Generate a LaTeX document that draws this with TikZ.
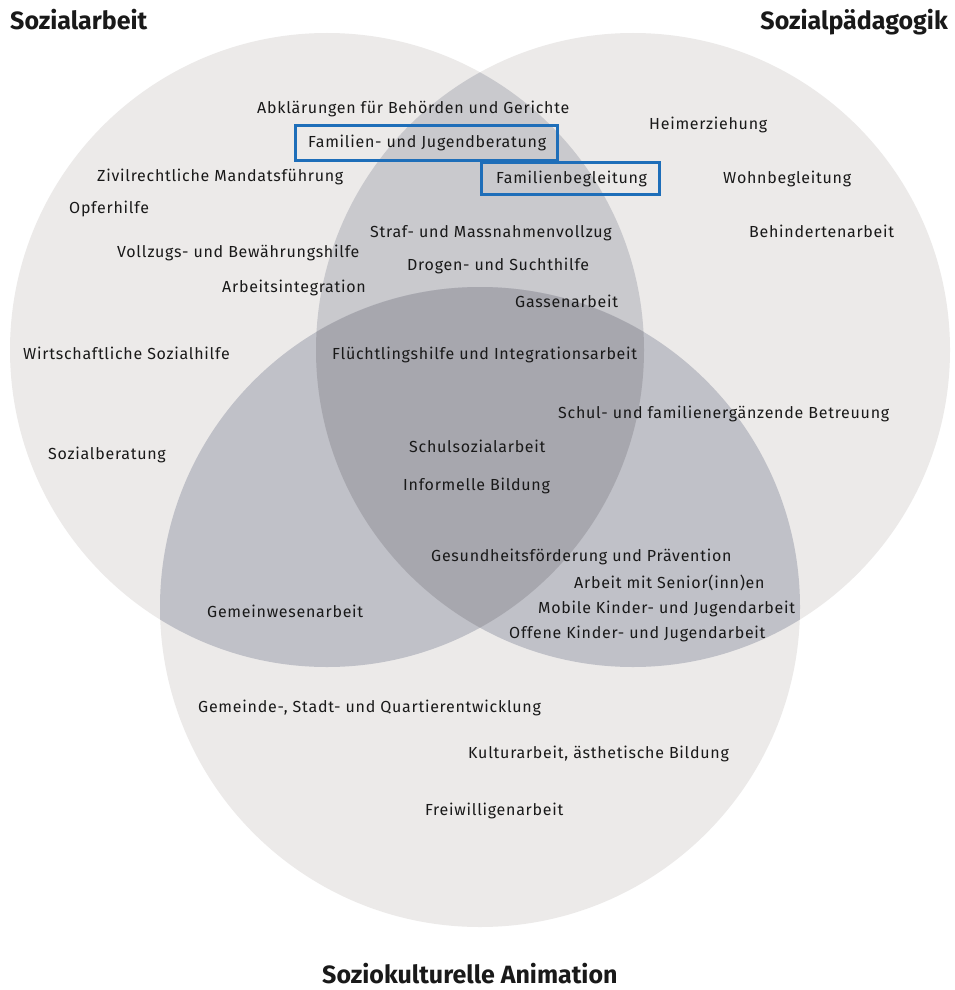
\documentclass[tikz,border=0pt]{standalone}
\usepackage{fontspec}
\setmainfont{Fira Sans}
\newfontfamily\lblfont[LetterSpace=4.6]{Fira Sans}
\definecolor{circA}{RGB}{236,234,233}
\definecolor{circLR}{RGB}{201,201,205}
\definecolor{circXB}{RGB}{192,193,200}
\definecolor{circT}{RGB}{167,167,174}
\definecolor{txt}{RGB}{25,25,25}
\definecolor{boxblue}{RGB}{30,110,185}
\begin{document}
\begin{tikzpicture}[x=1pt,y=-1pt,
  lbl/.style={anchor=base west, inner sep=0pt, text=txt, font=\lblfont\fontsize{16}{19}\selectfont},
  ttl/.style={anchor=base west, inner sep=0pt, text=txt, font=\fontsize{25}{29}\selectfont\bfseries},
  hbox/.style={draw=boxblue, line width=3pt}]
\useasboundingbox (0,0) rectangle (954,990);
\fill[white] (0,0) rectangle (954,990);
\coordinate (cL) at (327,350);
\coordinate (cR) at (633,350);
\coordinate (cB) at (480,607);
\def\rL{317pt}\def\rR{317pt}\def\rB{320pt}
% single circles
\fill[circA] (cL) circle[radius=\rL];
\fill[circA] (cR) circle[radius=\rR];
\fill[circA] (cB) circle[radius=\rB];
% pairwise
\begin{scope}
  \clip (cL) circle[radius=\rL];
  \fill[circLR] (cR) circle[radius=\rR];
  \fill[circXB] (cB) circle[radius=\rB];
\end{scope}
\begin{scope}
  \clip (cR) circle[radius=\rR];
  \fill[circXB] (cB) circle[radius=\rB];
\end{scope}
\begin{scope}
  \clip (cL) circle[radius=\rL];
  \clip (cR) circle[radius=\rR];
  \fill[circT] (cB) circle[radius=\rB];
\end{scope}
% titles
\node[ttl] (tSA) at (10,30) {Sozialarbeit};
\node[ttl, anchor=base east] (tSP) at (948,30) {Sozialpädagogik};
\node[ttl] (tSK) at (322,983) {Soziokulturelle Animation};
% highlight boxes
\draw[hbox] (295,125) rectangle (557,160);
\draw[hbox] (481,162) rectangle (659,194);
% labels
\node[lbl] (n1) at (257,113) {Abklärungen für Behörden und Gerichte};
\node[lbl] (n2) at (308,147) {Familien- und Jugendberatung};
\node[lbl] (n3) at (97,181) {Zivilrechtliche Mandatsführung};
\node[lbl] (n4) at (69,213) {Opferhilfe};
\node[lbl] (n5) at (370,237) {Straf- und Massnahmenvollzug};
\node[lbl] (n6) at (117,257) {Vollzugs- und Bewährungshilfe};
\node[lbl] (n7) at (407,270) {Drogen- und Suchthilfe};
\node[lbl] (n8) at (222,292) {Arbeitsintegration};
\node[lbl] (n9) at (649,129) {Heimerziehung};
\node[lbl] (n10) at (496,183) {Familienbegleitung};
\node[lbl] (n11) at (723,183) {Wohnbegleitung};
\node[lbl] (n12) at (749,237) {Behindertenarbeit};
\node[lbl] (n13) at (515,307) {Gassenarbeit};
\node[lbl] (n14) at (23,359) {Wirtschaftliche Sozialhilfe};
\node[lbl] (n15) at (332,359) {Flüchtlingshilfe und Integrationsarbeit};
\node[lbl] (n16) at (558,418) {Schul- und familienergänzende Betreuung};
\node[lbl] (n17) at (48,459) {Sozialberatung};
\node[lbl] (n18) at (409,452) {Schulsozialarbeit};
\node[lbl] (n19) at (403,490) {Informelle Bildung};
\node[lbl] (n20) at (431,561) {Gesundheitsförderung und Prävention};
\node[lbl] (n21) at (574,588) {Arbeit mit Senior(inn)en};
\node[lbl] (n22) at (538,613) {Mobile Kinder- und Jugendarbeit};
\node[lbl] (n23) at (207,617) {Gemeinwesenarbeit};
\node[lbl] (n24) at (509,638) {Offene Kinder- und Jugendarbeit};
\node[lbl] (n25) at (198,712) {Gemeinde-, Stadt- und Quartierentwicklung};
\node[lbl] (n26) at (468,758) {Kulturarbeit, ästhetische Bildung};
\node[lbl] (n27) at (425,815) {Freiwilligenarbeit};
\end{tikzpicture}
\end{document}
